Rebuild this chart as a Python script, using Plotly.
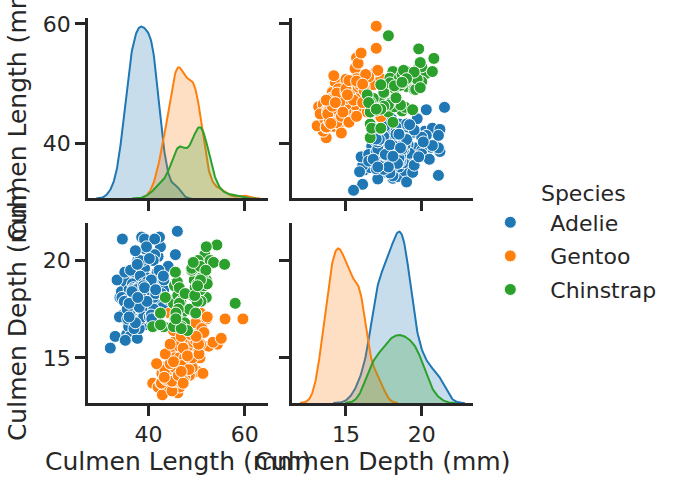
import numpy as np
import plotly.graph_objects as go

species = ["Adelie", "Gentoo", "Chinstrap"]
colors = ["#1f77b4", "#ff7f0e", "#2ca02c"]
fills = ["rgba(31,119,180,0.25)", "rgba(255,127,14,0.25)", "rgba(44,160,44,0.25)"]

adelie_length = [39.1, 39.5, 40.3, 36.7, 39.3, 38.9, 39.2, 34.1, 42.0, 37.8, 37.8, 41.1, 38.6, 34.6, 36.6, 38.7,
                 42.5, 34.4, 46.0, 37.8, 37.7, 35.9, 38.2, 38.8, 35.3, 40.6, 40.5, 37.9, 40.5, 39.5, 37.2, 39.5,
                 40.9, 36.4, 39.2, 38.8, 42.2, 37.6, 39.8, 36.5, 40.8, 36.0, 44.1, 37.0, 39.6, 41.1, 37.5, 36.0,
                 42.3, 39.6, 40.1, 35.0, 42.0, 34.5, 41.4, 39.0, 40.6, 36.5, 37.6, 35.7, 41.3, 37.6, 41.1, 36.4,
                 41.6, 35.5, 41.1, 35.9, 41.8, 33.5, 39.7, 39.6, 45.8, 35.5, 42.8, 40.9, 37.2, 36.2, 42.1, 34.6,
                 42.9, 36.7, 35.1, 37.3, 41.3, 36.3, 36.9, 38.3, 38.9, 35.7, 41.1, 34.0, 39.6, 36.2, 40.8, 38.1,
                 40.3, 33.1, 43.2, 35.0, 41.0, 37.7, 37.8, 37.9, 39.7, 38.6, 38.2, 38.1, 43.2, 38.1, 45.6, 39.7,
                 42.2, 39.6, 42.7, 38.6, 37.3, 35.7, 41.1, 36.2, 37.7, 40.2, 41.4, 35.2, 40.6, 38.8, 41.5, 39.0,
                 44.1, 38.5, 43.1, 36.8, 37.5, 38.1, 41.1, 35.6, 40.2, 37.0, 39.7, 40.2, 40.6, 32.1, 40.7, 37.3,
                 39.0, 39.2, 36.6, 36.0, 37.8, 36.0, 41.5]
adelie_depth = [18.7, 17.4, 18.0, 19.3, 20.6, 17.8, 19.6, 18.1, 20.2, 17.1, 17.3, 17.6, 21.2, 21.1, 17.8, 19.0,
                20.7, 18.4, 21.5, 18.3, 18.7, 19.2, 18.1, 17.2, 18.9, 18.6, 17.9, 18.6, 18.9, 16.7, 18.1, 17.8,
                18.9, 17.0, 21.1, 20.0, 18.5, 19.3, 19.1, 18.0, 18.4, 18.5, 19.7, 16.9, 18.8, 19.0, 18.9, 17.9,
                21.2, 17.7, 18.9, 17.9, 19.5, 18.1, 18.6, 17.5, 18.8, 16.6, 19.1, 16.9, 21.1, 17.0, 18.2, 17.1,
                18.0, 16.2, 19.1, 16.6, 19.4, 19.0, 18.4, 17.2, 18.9, 17.5, 18.5, 16.8, 19.4, 16.1, 19.1, 17.2,
                17.6, 18.8, 19.4, 17.8, 20.3, 19.5, 18.6, 19.2, 18.8, 18.0, 18.1, 17.1, 18.1, 17.3, 18.9, 18.6,
                18.5, 16.1, 18.5, 17.9, 20.0, 16.0, 20.0, 18.6, 18.9, 17.2, 20.0, 17.0, 19.0, 16.5, 20.3, 17.7,
                19.5, 20.7, 18.3, 17.0, 20.5, 17.0, 18.6, 17.2, 19.8, 17.0, 18.5, 15.9, 19.0, 17.6, 18.3, 17.1,
                18.0, 17.9, 19.2, 18.5, 18.5, 17.6, 17.5, 17.5, 20.1, 16.5, 17.9, 17.1, 17.2, 15.5, 17.0, 16.8,
                18.7, 18.6, 18.4, 17.8, 18.1, 17.1, 18.5]

gentoo_length = [46.1, 50.0, 48.7, 50.0, 47.6, 46.5, 45.4, 46.7, 43.3, 46.8, 40.9, 49.0, 45.5, 48.4, 45.8, 49.3,
                 42.0, 49.2, 46.2, 48.7, 50.2, 45.1, 46.5, 46.3, 42.9, 46.1, 44.5, 47.8, 48.2, 50.0, 47.3, 42.8,
                 45.1, 59.6, 49.1, 48.4, 42.6, 44.4, 44.0, 48.7, 42.7, 49.6, 45.3, 49.6, 50.5, 43.6, 45.5, 50.5,
                 44.9, 45.2, 46.6, 48.5, 45.1, 50.1, 46.5, 45.0, 43.8, 45.5, 43.2, 50.4, 45.3, 46.2, 45.7, 54.3,
                 45.8, 49.8, 46.2, 49.5, 43.5, 50.7, 47.7, 46.4, 48.2, 46.5, 46.4, 48.6, 47.5, 51.1, 45.2, 45.2,
                 49.1, 52.5, 47.4, 50.0, 44.9, 50.8, 43.4, 51.3, 47.5, 52.1, 47.5, 52.2, 45.5, 49.5, 44.5, 50.8,
                 49.4, 46.9, 48.4, 51.1, 48.5, 55.9, 47.2, 49.1, 47.3, 46.8, 41.7, 53.4, 43.3, 48.1, 50.5, 49.8,
                 43.5, 51.5, 46.2, 55.1, 44.5, 48.8, 47.2, 46.8, 50.4, 45.2, 49.9]
gentoo_depth = [13.2, 16.3, 14.1, 15.2, 14.5, 13.5, 14.6, 15.3, 13.4, 15.4, 13.7, 16.1, 13.7, 14.6, 14.6, 15.7,
                13.5, 15.2, 14.5, 15.1, 14.3, 14.5, 14.5, 15.8, 13.1, 15.1, 14.3, 15.0, 14.3, 15.3, 15.3, 14.2,
                14.5, 17.0, 14.8, 16.3, 13.7, 17.3, 13.6, 15.7, 13.7, 16.0, 13.7, 15.0, 15.9, 13.9, 13.9, 15.9,
                13.3, 15.8, 14.2, 14.1, 14.4, 15.0, 14.4, 15.4, 13.9, 15.0, 14.5, 15.3, 13.8, 14.9, 13.9, 15.7,
                14.2, 16.8, 14.4, 16.2, 14.2, 15.0, 15.0, 15.6, 15.6, 14.8, 15.0, 16.0, 14.2, 16.3, 13.8, 16.4,
                14.5, 15.6, 14.6, 15.9, 13.8, 17.3, 14.4, 14.2, 14.0, 17.0, 15.0, 17.1, 14.5, 16.1, 14.7, 15.7,
                15.8, 14.6, 14.4, 16.5, 15.0, 17.0, 15.5, 15.0, 13.8, 16.1, 14.7, 15.8, 14.0, 15.1, 15.2, 15.9,
                15.2, 16.3, 14.1, 16.0, 15.7, 16.2, 13.7, 14.3, 15.7, 14.8, 16.1]

chinstrap_length = [46.5, 50.0, 51.3, 45.4, 52.7, 45.2, 46.1, 51.3, 46.0, 51.3, 46.6, 51.7, 47.0, 52.0, 45.9, 50.5,
                    50.3, 58.0, 46.4, 49.2, 42.4, 48.5, 43.2, 50.6, 46.7, 52.0, 50.5, 49.5, 46.4, 52.8, 40.9, 54.2,
                    42.5, 51.0, 49.7, 47.5, 47.6, 52.0, 46.9, 53.5, 49.0, 46.2, 50.9, 45.5, 50.9, 50.8, 50.1, 49.0,
                    51.5, 49.8, 48.1, 51.4, 45.7, 50.7, 42.5, 52.2, 45.2, 49.3, 50.2, 45.6, 51.9, 46.8, 45.7, 55.8,
                    43.5, 49.6, 50.8, 50.2]
chinstrap_depth = [17.9, 19.5, 19.2, 18.7, 19.8, 17.8, 18.2, 18.2, 18.9, 19.9, 17.8, 20.3, 17.3, 18.1, 17.1, 19.6,
                   20.0, 17.8, 18.6, 18.2, 17.3, 17.5, 16.6, 19.4, 17.9, 19.0, 18.4, 19.0, 17.8, 20.0, 16.6, 20.8,
                   16.7, 18.8, 18.6, 16.8, 18.3, 20.7, 16.6, 19.9, 19.5, 17.5, 19.1, 17.0, 17.9, 18.5, 17.9, 19.6,
                   18.7, 17.3, 16.4, 19.0, 17.3, 19.7, 17.3, 18.8, 16.6, 19.9, 18.8, 19.4, 19.5, 16.5, 17.0, 19.8,
                   18.1, 18.2, 19.0, 18.7]

length_ticks = [40, 60]
depth_ticks = [15, 20]
length_label = "Culmen Length (mm)"
depth_label = "Culmen Depth (mm)"
legend_title = "Species"

lengths = [adelie_length, gentoo_length, chinstrap_length]
depths = [adelie_depth, gentoo_depth, chinstrap_depth]
N_total = sum(len(v) for v in lengths)


def kde(values):
    v = np.asarray(values, dtype=float)
    n = len(v)
    bw = v.std(ddof=1) * n ** (-0.2)
    grid = np.linspace(v.min() - 3 * bw, v.max() + 3 * bw, 200)
    dens = np.exp(-0.5 * ((grid[:, None] - v[None, :]) / bw) ** 2).sum(axis=1)
    dens = dens / (n * bw * np.sqrt(2 * np.pi)) * (n / N_total)
    return grid, dens


len_kdes = [kde(v) for v in lengths]
dep_kdes = [kde(v) for v in depths]


def padded(lo, hi):
    s = hi - lo
    return [lo - 0.05 * s, hi + 0.05 * s]


all_len = np.concatenate([np.asarray(v) for v in lengths])
all_dep = np.concatenate([np.asarray(v) for v in depths])
len_x_range = padded(min(g.min() for g, _ in len_kdes), max(g.max() for g, _ in len_kdes))
dep_x_range = padded(min(g.min() for g, _ in dep_kdes), max(g.max() for g, _ in dep_kdes))
len_y_range = padded(all_len.min(), all_len.max())
dep_y_range = padded(all_dep.min(), all_dep.max())
len_kde_max = max(d.max() for _, d in len_kdes) * 1.05
dep_kde_max = max(d.max() for _, d in dep_kdes) * 1.05

fig = go.Figure()

# empty traces so that the diagonal subplots (and their visible axes) exist
fig.add_trace(go.Scatter(x=[], y=[], xaxis="x", yaxis="y", showlegend=False, hoverinfo="skip"))
fig.add_trace(go.Scatter(x=[], y=[], xaxis="x4", yaxis="y4", showlegend=False, hoverinfo="skip"))

# diagonal KDEs
for i in range(3):
    g, d = len_kdes[i]
    fig.add_trace(go.Scatter(x=g, y=d, mode="lines", fill="tozeroy", fillcolor=fills[i],
                             line=dict(color=colors[i], width=2), xaxis="x", yaxis="y5",
                             showlegend=False, hoverinfo="skip"))
    g, d = dep_kdes[i]
    fig.add_trace(go.Scatter(x=g, y=d, mode="lines", fill="tozeroy", fillcolor=fills[i],
                             line=dict(color=colors[i], width=2), xaxis="x4", yaxis="y6",
                             showlegend=False, hoverinfo="skip"))

# scatters
for i in range(3):
    mk = dict(color=colors[i], size=12, line=dict(color="white", width=1))
    fig.add_trace(go.Scatter(x=depths[i], y=lengths[i], mode="markers", marker=mk,
                             xaxis="x2", yaxis="y2", showlegend=False))
    fig.add_trace(go.Scatter(x=lengths[i], y=depths[i], mode="markers", marker=mk,
                             xaxis="x3", yaxis="y3", name=species[i], legendgroup=species[i],
                             showlegend=True))

axcol = "#262626"
tickfont = dict(family="DejaVu Sans", size=22, color=axcol)
titlefont = dict(family="DejaVu Sans", size=25, color=axcol)
base = dict(showline=True, linecolor=axcol, linewidth=2.5, ticks="outside", ticklen=10,
            tickwidth=2.5, tickcolor=axcol, showgrid=False, zeroline=False, tickfont=tickfont,
            tickmode="array")

W, H = 682, 484
L, R, T, B = 88, 472.7, 11.7, 402.7
pw, ph = R - L, B - T
xd1 = [0, (268 - L) / pw]
xd2 = [(291.7 - L) / pw, 1]
yd1 = [(B - 195) / ph, 1]
yd2 = [0, (B - 220) / ph]

fig.update_layout(
    width=W, height=H,
    margin=dict(l=L, r=W - R, t=T, b=H - B, pad=0),
    paper_bgcolor="white", plot_bgcolor="white",
    font=dict(family="DejaVu Sans", color=axcol),
    xaxis=dict(base, domain=xd1, range=len_x_range, anchor="y", tickvals=length_ticks,
               showticklabels=False),
    yaxis=dict(base, domain=yd1, range=len_y_range, anchor="x", tickvals=length_ticks,
               title=dict(text=length_label, font=titlefont, standoff=10)),
    xaxis2=dict(base, domain=xd2, range=dep_x_range, anchor="y2", tickvals=depth_ticks,
                showticklabels=False),
    yaxis2=dict(base, domain=yd1, range=len_y_range, anchor="x2", tickvals=length_ticks,
                showticklabels=False),
    xaxis3=dict(base, domain=xd1, range=len_x_range, anchor="y3", tickvals=length_ticks,
                title=dict(text=length_label, font=titlefont, standoff=2)),
    yaxis3=dict(base, domain=yd2, range=dep_y_range, anchor="x3", tickvals=depth_ticks,
                title=dict(text=depth_label, font=titlefont, standoff=10)),
    xaxis4=dict(base, domain=xd2, range=dep_x_range, anchor="y4", tickvals=depth_ticks,
                title=dict(text=depth_label, font=titlefont, standoff=2)),
    yaxis4=dict(base, domain=yd2, range=dep_y_range, anchor="x4", tickvals=depth_ticks,
                showticklabels=False),
    yaxis5=dict(domain=yd1, range=[0, len_kde_max], overlaying="y", visible=False, anchor="x"),
    yaxis6=dict(domain=yd2, range=[0, dep_kde_max], overlaying="y4", visible=False, anchor="x4"),
    legend=dict(x=(470 - L) / pw, y=(B - 169) / ph, xanchor="left", yanchor="top",
                font=dict(family="DejaVu Sans", size=22, color=axcol),
                title=dict(text="\u00a0" * 5 + legend_title, side="top center",
                           font=dict(family="DejaVu Sans", size=22, color=axcol)),
                itemwidth=70, tracegroupgap=2, bgcolor="rgba(0,0,0,0)"),
)

fig.write_html("out.html")
